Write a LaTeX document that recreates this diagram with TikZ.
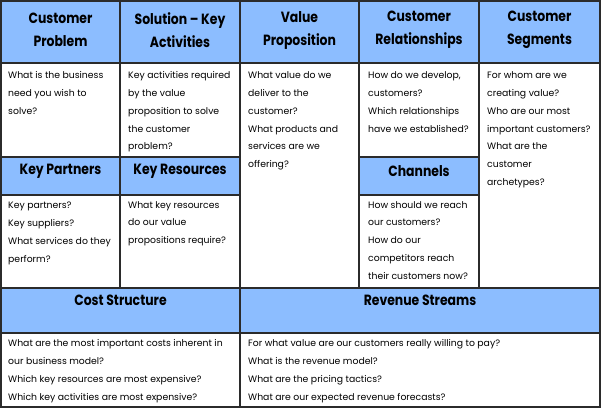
\documentclass[tikz,border=0pt]{standalone}
\usepackage{fontspec}
\setmainfont{Poppins}
\newfontfamily\headfont{Poppins}[FakeStretch=0.84]
\definecolor{linegray}{HTML}{2B2B2B}
\definecolor{headblue}{HTML}{8CBDFF}
% one cell of the canvas: name, x1, y1, x2, y2, style
\newcommand\canvascell[6]{%
  \node[#6, minimum width={#4-#2}, minimum height={#5-#3}] (#1) at (#2,#3) {};}
\begin{document}
\begin{tikzpicture}[x=1pt,y=-1pt,
  grid/.style={draw=linegray, line width=1.3pt, inner sep=0pt, outer sep=0pt, anchor=north west},
  headcell/.style={grid, fill=headblue},
  bodycell/.style={grid, fill=white},
  htext/.style={font=\headfont\fontsize{14.8}{23}\selectfont\bfseries, align=center, inner sep=0pt},
  btext/.style={font=\fontsize{9.3}{17.8}\selectfont, align=left, anchor=north west, inner sep=0pt},
]
\useasboundingbox (0,0) rectangle (602,409);
\fill[white] (0,0) rectangle (602,409);

% top row headers
\canvascell{cp}{1}{1}{120}{63}{headcell}
\canvascell{sk}{120}{1}{240}{63}{headcell}
\canvascell{vp}{240}{1}{359}{63}{headcell}
\canvascell{cr}{359}{1}{479}{63}{headcell}
\canvascell{cs}{479}{1}{600}{63}{headcell}
% top row bodies
\canvascell{cpb}{1}{63}{120}{157}{bodycell}
\canvascell{skb}{120}{63}{240}{157}{bodycell}
\canvascell{vpb}{240}{63}{359}{288}{bodycell}
\canvascell{crb}{359}{63}{479}{157}{bodycell}
\canvascell{csb}{479}{63}{600}{288}{bodycell}
% middle row
\canvascell{kp}{1}{157}{120}{195}{headcell}
\canvascell{kr}{120}{157}{240}{195}{headcell}
\canvascell{ch}{359}{157}{479}{195}{headcell}
\canvascell{kpb}{1}{195}{120}{288}{bodycell}
\canvascell{krb}{120}{195}{240}{288}{bodycell}
\canvascell{chb}{359}{195}{479}{288}{bodycell}
% bottom row
\canvascell{costh}{1}{288}{240}{333}{headcell}
\canvascell{revh}{240}{288}{600}{333}{headcell}
\canvascell{costb}{1}{333}{240}{407}{bodycell}
\canvascell{revb}{240}{333}{600}{407}{bodycell}

% outer frame
\draw[linegray, line width=2pt] (cp.north west) rectangle (revb.south east);

% headings
\node[htext] (cpt) at (60.5,30) {Customer\\Problem};
\node[htext] (skt) at (180,30) {Solution – Key\\Activities};
\node[htext] (vpt) at (299.5,30) {Value\\Proposition};
\node[htext] (crt) at (419,30) {Customer\\Relationships};
\node[htext] (cst) at (539.5,30) {Customer\\Segments};
\node[htext] (kpt) at (60.5,171) {Key Partners};
\node[htext] (krt) at (180,171) {Key Resources};
\node[htext] (cht) at (419,171) {Channels};
\node[htext] (costt) at (120.5,300) {Cost Structure};
\node[htext] (revt) at (420,300) {Revenue Streams};

% questions
\node[btext] (cpq) at (8,66) {\strut What is the business\\need you wish to\\solve?};
\node[btext] (skq) at (128,66) {\strut Key activities required\\by the value\\proposition to solve\\the customer\\problem?};
\node[btext] (vpq) at (248,66) {\strut What value do we\\deliver to the\\customer?\\What products and\\services are we\\offering?};
\node[btext] (crq) at (368,66) {\strut How do we develop,\\customers?\\Which relationships\\have we established?};
\node[btext] (csq) at (487,66) {\strut For whom are we\\creating value?\\Who are our most\\important customers?\\What are the\\customer\\archetypes?};
\node[btext] (kpq) at (8,196) {\strut Key partners?\\Key suppliers?\\What services do they\\perform?};
\node[btext] (krq) at (128,195.5) {\strut What key resources\\do our value\\propositions require?};
\node[btext] (chq) at (368,195.5) {\strut How should we reach\\our customers?\\How do our\\competitors reach\\their customers now?};
\node[btext] (costq) at (8,334) {\strut What are the most important costs inherent in\\our business model?\\Which key resources are most expensive?\\Which key activities are most expensive?};
\node[btext] (revq) at (248,334) {\strut For what value are our customers really willing to pay?\\What is the revenue model?\\What are the pricing tactics?\\What are our expected revenue forecasts?};
\end{tikzpicture}
\end{document}
